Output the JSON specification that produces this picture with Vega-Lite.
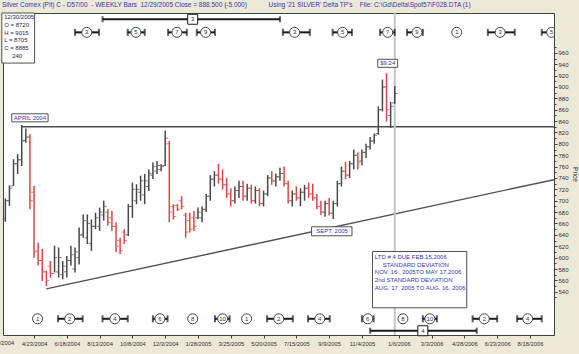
{
  "$schema": "https://vega.github.io/schema/vega-lite/v6.json",
  "width": 551,
  "height": 322,
  "autosize": "none",
  "padding": {"left": 3, "top": 13, "right": 25, "bottom": 19},
  "background": "#ece9d8",
  "title": {
    "text": "Silver Comex (Pit) C - D57/00\u00a0 - WEEKLY Bars\u00a0 12/29/2005 Close = 888.500 (-5.000)\u00a0\u00a0\u00a0\u00a0\u00a0\u00a0\u00a0\u00a0\u00a0\u00a0\u00a0 Using '21 SILVER' Delta TP's\u00a0\u00a0\u00a0 File: C:\\Gd\\Delta\\Spot57\\F028.DTA (1)",
    "anchor": "start",
    "frame": "group",
    "font": "Liberation Sans Narrow, Liberation Sans, sans-serif",
    "fontSize": 6.5,
    "fontWeight": "normal",
    "color": "#3434b8",
    "baseline": "bottom",
    "offset": 4,
    "dx": -1,
    "dy": 6
  },
  "config": {
    "view": {"fill": "white", "stroke": "#404040", "strokeWidth": 1},
    "font": "Liberation Sans",
    "text": {"font": "Liberation Sans"},
    "axis": {"labelOverlap": false, "labelSeparation": 0}
  },
  "datasets": {
    "bars": [
      {"d": "2004-03-05", "o": 668, "h": 704, "l": 663, "c": 700},
      {"d": "2004-03-12", "o": 700, "h": 727, "l": 691, "c": 722},
      {"d": "2004-03-19", "o": 726, "h": 773, "l": 726, "c": 765},
      {"d": "2004-03-26", "o": 765, "h": 782, "l": 747, "c": 772},
      {"d": "2004-04-02", "o": 772, "h": 833, "l": 761, "c": 805},
      {"d": "2004-04-09", "o": 806, "h": 827, "l": 802, "c": 812},
      {"d": "2004-04-16", "o": 812, "h": 817, "l": 685, "c": 700},
      {"d": "2004-04-23", "o": 715, "h": 726, "l": 600, "c": 610},
      {"d": "2004-04-30", "o": 612, "h": 626, "l": 586, "c": 595},
      {"d": "2004-05-07", "o": 595, "h": 615, "l": 559, "c": 575},
      {"d": "2004-05-14", "o": 575, "h": 577, "l": 550, "c": 560},
      {"d": "2004-05-21", "o": 585, "h": 594, "l": 565, "c": 572},
      {"d": "2004-05-28", "o": 572, "h": 621, "l": 574, "c": 600},
      {"d": "2004-06-04", "o": 575, "h": 618, "l": 565, "c": 600},
      {"d": "2004-06-11", "o": 570, "h": 594, "l": 562, "c": 585},
      {"d": "2004-06-18", "o": 575, "h": 603, "l": 565, "c": 595},
      {"d": "2004-06-25", "o": 595, "h": 621, "l": 586, "c": 605},
      {"d": "2004-07-02", "o": 580, "h": 618, "l": 574, "c": 610},
      {"d": "2004-07-09", "o": 600, "h": 653, "l": 588, "c": 640},
      {"d": "2004-07-16", "o": 640, "h": 676, "l": 635, "c": 665},
      {"d": "2004-07-23", "o": 635, "h": 676, "l": 624, "c": 660},
      {"d": "2004-07-30", "o": 625, "h": 667, "l": 612, "c": 655},
      {"d": "2004-08-06", "o": 655, "h": 679, "l": 650, "c": 670},
      {"d": "2004-08-13", "o": 655, "h": 688, "l": 647, "c": 680},
      {"d": "2004-08-20", "o": 675, "h": 700, "l": 665, "c": 690},
      {"d": "2004-08-27", "o": 680, "h": 685, "l": 656, "c": 662},
      {"d": "2004-09-03", "o": 670, "h": 682, "l": 647, "c": 655},
      {"d": "2004-09-10", "o": 655, "h": 662, "l": 610, "c": 620},
      {"d": "2004-09-17", "o": 630, "h": 635, "l": 606, "c": 612},
      {"d": "2004-09-24", "o": 645, "h": 650, "l": 624, "c": 630},
      {"d": "2004-10-01", "o": 640, "h": 694, "l": 638, "c": 690},
      {"d": "2004-10-08", "o": 690, "h": 732, "l": 670, "c": 720},
      {"d": "2004-10-15", "o": 700, "h": 729, "l": 694, "c": 720},
      {"d": "2004-10-22", "o": 715, "h": 744, "l": 700, "c": 735},
      {"d": "2004-10-29", "o": 710, "h": 747, "l": 694, "c": 735},
      {"d": "2004-11-05", "o": 725, "h": 755, "l": 717, "c": 748},
      {"d": "2004-11-12", "o": 745, "h": 767, "l": 738, "c": 760},
      {"d": "2004-11-19", "o": 752, "h": 770, "l": 747, "c": 762},
      {"d": "2004-11-26", "o": 755, "h": 764, "l": 752, "c": 760},
      {"d": "2004-12-03", "o": 762, "h": 823, "l": 761, "c": 810},
      {"d": "2004-12-10", "o": 800, "h": 805, "l": 662, "c": 680},
      {"d": "2004-12-17", "o": 690, "h": 694, "l": 667, "c": 672},
      {"d": "2004-12-24", "o": 692, "h": 694, "l": 682, "c": 685},
      {"d": "2004-12-31", "o": 700, "h": 708, "l": 685, "c": 690},
      {"d": "2005-01-07", "o": 675, "h": 679, "l": 635, "c": 645},
      {"d": "2005-01-14", "o": 665, "h": 679, "l": 644, "c": 650},
      {"d": "2005-01-21", "o": 670, "h": 682, "l": 647, "c": 655},
      {"d": "2005-01-28", "o": 670, "h": 688, "l": 668, "c": 680},
      {"d": "2005-02-04", "o": 670, "h": 690, "l": 662, "c": 685},
      {"d": "2005-02-11", "o": 685, "h": 712, "l": 680, "c": 708},
      {"d": "2005-02-18", "o": 708, "h": 745, "l": 700, "c": 738},
      {"d": "2005-02-25", "o": 738, "h": 752, "l": 725, "c": 745},
      {"d": "2005-03-04", "o": 745, "h": 765, "l": 730, "c": 738},
      {"d": "2005-03-11", "o": 738, "h": 755, "l": 720, "c": 728},
      {"d": "2005-03-18", "o": 728, "h": 740, "l": 705, "c": 712},
      {"d": "2005-03-25", "o": 712, "h": 722, "l": 690, "c": 700},
      {"d": "2005-04-01", "o": 700, "h": 725, "l": 695, "c": 718},
      {"d": "2005-04-08", "o": 718, "h": 735, "l": 705, "c": 725},
      {"d": "2005-04-15", "o": 725, "h": 735, "l": 700, "c": 708},
      {"d": "2005-04-22", "o": 708, "h": 730, "l": 700, "c": 722},
      {"d": "2005-04-29", "o": 722, "h": 728, "l": 695, "c": 700},
      {"d": "2005-05-06", "o": 700, "h": 725, "l": 695, "c": 718},
      {"d": "2005-05-13", "o": 718, "h": 722, "l": 690, "c": 695},
      {"d": "2005-05-20", "o": 695, "h": 718, "l": 690, "c": 712},
      {"d": "2005-05-27", "o": 712, "h": 745, "l": 708, "c": 740},
      {"d": "2005-06-03", "o": 740, "h": 752, "l": 728, "c": 735},
      {"d": "2005-06-10", "o": 735, "h": 748, "l": 725, "c": 742},
      {"d": "2005-06-17", "o": 742, "h": 758, "l": 735, "c": 748},
      {"d": "2005-06-24", "o": 748, "h": 760, "l": 725, "c": 730},
      {"d": "2005-07-01", "o": 730, "h": 735, "l": 695, "c": 700},
      {"d": "2005-07-08", "o": 700, "h": 718, "l": 690, "c": 712},
      {"d": "2005-07-15", "o": 712, "h": 725, "l": 700, "c": 705},
      {"d": "2005-07-22", "o": 705, "h": 722, "l": 690, "c": 715},
      {"d": "2005-07-29", "o": 715, "h": 728, "l": 700, "c": 722},
      {"d": "2005-08-05", "o": 722, "h": 732, "l": 705, "c": 712},
      {"d": "2005-08-12", "o": 712, "h": 730, "l": 700, "c": 705},
      {"d": "2005-08-19", "o": 705, "h": 712, "l": 685, "c": 690},
      {"d": "2005-08-26", "o": 690, "h": 700, "l": 675, "c": 680},
      {"d": "2005-09-02", "o": 680, "h": 700, "l": 672, "c": 695},
      {"d": "2005-09-09", "o": 695, "h": 705, "l": 674, "c": 678},
      {"d": "2005-09-16", "o": 678, "h": 700, "l": 668, "c": 695},
      {"d": "2005-09-23", "o": 695, "h": 735, "l": 690, "c": 730},
      {"d": "2005-09-30", "o": 730, "h": 760, "l": 725, "c": 752},
      {"d": "2005-10-07", "o": 752, "h": 768, "l": 738, "c": 745},
      {"d": "2005-10-14", "o": 745, "h": 770, "l": 740, "c": 765},
      {"d": "2005-10-21", "o": 765, "h": 790, "l": 755, "c": 780},
      {"d": "2005-10-28", "o": 780, "h": 785, "l": 755, "c": 768},
      {"d": "2005-11-04", "o": 770, "h": 790, "l": 762, "c": 785},
      {"d": "2005-11-11", "o": 785, "h": 800, "l": 775, "c": 795},
      {"d": "2005-11-18", "o": 795, "h": 812, "l": 790, "c": 805},
      {"d": "2005-11-25", "o": 805, "h": 818, "l": 800, "c": 815},
      {"d": "2005-12-02", "o": 818, "h": 866, "l": 816, "c": 860},
      {"d": "2005-12-09", "o": 860, "h": 913, "l": 857, "c": 900},
      {"d": "2005-12-16", "o": 900, "h": 924, "l": 839, "c": 860},
      {"d": "2005-12-23", "o": 850, "h": 874, "l": 828, "c": 866},
      {"d": "2005-12-30", "o": 872, "h": 901.5, "l": 870.5, "c": 888.5}
    ],
    "lines": [
      {"d": "2004-04-02", "d2": "2006-09-28", "p": 830, "p2": 830},
      {"d": "2004-05-14", "d2": "2006-09-28", "p": 545, "p2": 737}
    ],
    "circ": [
      {"d": "2004-07-22", "n": "3", "r": "t"},
      {"d": "2004-10-14", "n": "5", "r": "t"},
      {"d": "2004-12-23", "n": "7", "r": "t"},
      {"d": "2005-02-10", "n": "9", "r": "t"},
      {"d": "2005-07-12", "n": "3", "r": "t"},
      {"d": "2005-10-02", "n": "5", "r": "t"},
      {"d": "2005-12-18", "n": "7", "r": "t"},
      {"d": "2006-02-06", "n": "9", "r": "t"},
      {"d": "2006-04-15", "n": "1", "r": "t"},
      {"d": "2006-06-28", "n": "3", "r": "t"},
      {"d": "2006-09-24", "n": "5", "r": "t"},
      {"d": "2004-04-29", "n": "1", "r": "b"},
      {"d": "2004-06-23", "n": "2", "r": "b"},
      {"d": "2004-09-08", "n": "4", "r": "b"},
      {"d": "2004-11-24", "n": "6", "r": "b"},
      {"d": "2005-01-19", "n": "8", "r": "b"},
      {"d": "2005-03-11", "n": "10", "r": "b"},
      {"d": "2005-04-21", "n": "1", "r": "b"},
      {"d": "2005-06-15", "n": "2", "r": "b"},
      {"d": "2005-08-24", "n": "4", "r": "b"},
      {"d": "2005-11-14", "n": "6", "r": "b"},
      {"d": "2006-01-13", "n": "8", "r": "b"},
      {"d": "2006-02-28", "n": "10", "r": "b"},
      {"d": "2006-06-01", "n": "2", "r": "b"},
      {"d": "2006-08-14", "n": "4", "r": "b"}
    ],
    "brk": [
      {"d": "2004-07-02", "d2": "2004-08-12", "r": "t"},
      {"d": "2004-09-30", "d2": "2004-10-29", "r": "t"},
      {"d": "2004-12-08", "d2": "2005-01-09", "r": "t"},
      {"d": "2005-01-26", "d2": "2005-02-26", "r": "t"},
      {"d": "2005-06-22", "d2": "2005-08-07", "r": "t"},
      {"d": "2005-09-15", "d2": "2005-10-18", "r": "t"},
      {"d": "2005-12-05", "d2": "2005-12-30", "r": "t"},
      {"d": "2006-01-20", "d2": "2006-02-16", "r": "t"},
      {"d": "2006-06-07", "d2": "2006-07-23", "r": "t"},
      {"d": "2006-09-07", "d2": "2006-10-15", "r": "t"},
      {"d": "2004-06-03", "d2": "2004-07-15", "r": "b"},
      {"d": "2004-08-18", "d2": "2004-09-30", "r": "b"},
      {"d": "2004-11-12", "d2": "2004-12-07", "r": "b"},
      {"d": "2005-02-26", "d2": "2005-03-23", "r": "b"},
      {"d": "2005-05-26", "d2": "2005-07-09", "r": "b"},
      {"d": "2005-08-04", "d2": "2005-09-10", "r": "b"},
      {"d": "2005-11-04", "d2": "2005-11-24", "r": "b"},
      {"d": "2006-02-16", "d2": "2006-03-12", "r": "b"},
      {"d": "2006-05-12", "d2": "2006-06-23", "r": "b"},
      {"d": "2006-07-27", "d2": "2006-09-07", "r": "b"}
    ],
    "ltd": [
      {"d": "2004-08-18", "d2": "2005-06-17", "m": "2005-01-19", "n": "3", "r": "t"},
      {"d": "2005-11-18", "d2": "2006-05-19", "m": "2006-02-16", "n": "4", "r": "b"}
    ],
    "tags": [
      {"t": "$9.24", "d": "2005-12-01", "d2": "2006-01-04", "p": 948.6, "p2": 934.5, "dm": "2005-12-18", "pm": 941.5},
      {"t": "APRIL 2004", "d": "2004-03-16", "d2": "2004-05-17", "p": 852.8, "p2": 838.7, "dm": "2004-04-16", "pm": 845.8},
      {"t": "SEPT. 2005", "d": "2005-08-10", "d2": "2005-10-18", "p": 654.2, "p2": 638.4, "dm": "2005-09-14", "pm": 646.3}
    ],
    "blocks": [
      {"k": "info", "d": "2004-02-28", "d2": "2004-04-24", "p": 1030, "p2": 942, "tx": "2004-03-03", "ty": 1027.6,
       "t": ["12/30/2005", "O = 8720", "H = 9015", "L = 8705", "C = 8885", "\u2800\u2800240"]},
      {"k": "ltd", "d": "2005-11-22", "d2": "2006-05-02", "p": 610.8, "p2": 511.8, "tx": "2005-11-26", "ty": 606.7,
       "t": ["LTD # 4 DUE FEB.15,2006", "", "\u2800\u2800STANDARD DEVIATION", "NOV. 16 , 2005TO MAY 17,2006", "", "2nd STANDARD DEVIATION", "AUG. 17, 2005 TO AUG. 16, 2006"]}
    ],
    "edge": [
      {"d": "2004-02-27", "t": "2/27/2004"}
    ]
  },
  "layer": [
    {
      "data": {"name": "lines"},
      "mark": {"type": "rule", "color": "#505050", "strokeWidth": 1.4, "clip": true},
      "encoding": {
        "x": {
          "field": "d", "type": "temporal",
          "scale": {"type": "utc", "nice": false, "domain": [{"year": 2004, "month": 3, "date": 1, "utc": true}, {"year": 2006, "month": 9, "date": 28, "utc": true}]},
          "axis": {
            "values": [
              {"year": 2004, "month": 4, "date": 23, "utc": true},
              {"year": 2004, "month": 6, "date": 18, "utc": true},
              {"year": 2004, "month": 8, "date": 13, "utc": true},
              {"year": 2004, "month": 10, "date": 8, "utc": true},
              {"year": 2004, "month": 12, "date": 3, "utc": true},
              {"year": 2005, "month": 1, "date": 28, "utc": true},
              {"year": 2005, "month": 3, "date": 25, "utc": true},
              {"year": 2005, "month": 5, "date": 20, "utc": true},
              {"year": 2005, "month": 7, "date": 15, "utc": true},
              {"year": 2005, "month": 9, "date": 9, "utc": true},
              {"year": 2005, "month": 11, "date": 4, "utc": true},
              {"year": 2006, "month": 1, "date": 6, "utc": true},
              {"year": 2006, "month": 3, "date": 3, "utc": true},
              {"year": 2006, "month": 4, "date": 28, "utc": true},
              {"year": 2006, "month": 6, "date": 23, "utc": true},
              {"year": 2006, "month": 8, "date": 18, "utc": true}
            ],
            "tickCount": 200,
            "format": "%-m/%-d/%Y",
            "title": null,
            "grid": false,
            "domain": false,
            "tickSize": 3,
            "tickColor": "#404040",
            "labelFontSize": 5.8,
            "labelColor": "#333333",
            "labelPadding": 2,
            "labelOverlap": false,
            "labelBound": false,
            "labelFlush": false
          }
        },
        "x2": {"field": "d2"},
        "y": {
          "field": "p", "type": "quantitative",
          "scale": {"domain": [464, 1030], "nice": false, "zero": false},
          "axis": {
            "orient": "right",
            "values": [530, 540, 550, 560, 570, 580, 590, 600, 610, 620, 630, 640, 650, 660, 670, 680, 690, 700, 710, 720, 730, 740, 750, 760, 770, 780, 790, 800, 810, 820, 830, 840, 850, 860, 870, 880, 890, 900, 910, 920, 930, 940, 950, 960, 970],
            "tickCount": 200,
            "labelExpr": "datum.value % 20 == 0 && datum.value >= 540 && datum.value <= 960 ? datum.label : ''",
            "grid": false,
            "domain": true,
            "domainColor": "#404040",
            "tickSize": {"condition": {"test": "datum.value % 20 == 0", "value": 3}, "value": 2},
            "tickColor": "#404040",
            "labelFontSize": 6,
            "labelColor": "#333333",
            "labelPadding": 1,
            "labelOverlap": false,
            "title": "Price",
            "titleFontSize": 6.5,
            "titleFontWeight": "normal",
            "titleColor": "#333333",
            "titlePadding": 3
          }
        },
        "y2": {"field": "p2"}
      }
    },
    {
      "data": {"name": "edge"},
      "mark": {"type": "text", "fontSize": 5.8, "color": "#333333", "align": "center", "baseline": "top"},
      "encoding": {
        "x": {"field": "d", "type": "temporal"},
        "y": {"datum": 455, "type": "quantitative"},
        "text": {"field": "t"}
      }
    },
    {
      "data": {"values": [{}]},
      "mark": {"type": "rule", "color": "#c4c4c4", "strokeWidth": 2},
      "encoding": {
        "x": {"datum": {"year": 2005, "month": 12, "date": 30, "utc": true}, "type": "temporal"},
        "y": {"datum": 1030, "type": "quantitative"},
        "y2": {"datum": 464}
      }
    },
    {
      "data": {"name": "bars"},
      "mark": {"type": "rule", "strokeWidth": 1.5},
      "encoding": {
        "x": {"field": "d", "type": "temporal"},
        "y": {"field": "l", "type": "quantitative"},
        "y2": {"field": "h"},
        "color": {"condition": {"test": "datum.c >= datum.o", "value": "#484848"}, "value": "#dd4646"}
      }
    },
    {
      "data": {"name": "bars"},
      "mark": {"type": "tick", "orient": "horizontal", "size": 2.5, "thickness": 1, "xOffset": -1.6},
      "encoding": {
        "x": {"field": "d", "type": "temporal"},
        "y": {"field": "o", "type": "quantitative"},
        "color": {"condition": {"test": "datum.c >= datum.o", "value": "#484848"}, "value": "#dd4646"}
      }
    },
    {
      "data": {"name": "bars"},
      "mark": {"type": "tick", "orient": "horizontal", "size": 2.5, "thickness": 1, "xOffset": 1.6},
      "encoding": {
        "x": {"field": "d", "type": "temporal"},
        "y": {"field": "c", "type": "quantitative"},
        "color": {"condition": {"test": "datum.c >= datum.o", "value": "#484848"}, "value": "#dd4646"}
      }
    },
    {
      "data": {"name": "brk"},
      "transform": [{"filter": "datum.r == 't'"}],
      "mark": {"type": "rule", "color": "#1a1a1a", "strokeWidth": 2, "clip": true},
      "encoding": {
        "x": {"field": "d", "type": "temporal"},
        "x2": {"field": "d2"},
        "y": {"datum": 996, "type": "quantitative"}
      }
    },
    {
      "data": {"name": "brk"},
      "transform": [{"filter": "datum.r == 'b'"}],
      "mark": {"type": "rule", "color": "#1a1a1a", "strokeWidth": 2, "clip": true},
      "encoding": {
        "x": {"field": "d", "type": "temporal"},
        "x2": {"field": "d2"},
        "y": {"datum": 492.5, "type": "quantitative"}
      }
    },
    {
      "data": {"name": "brk"},
      "transform": [{"filter": "datum.r == 't'"}, {"fold": ["d", "d2"], "as": ["end", "e"]}],
      "mark": {"type": "tick", "orient": "vertical", "size": 7, "thickness": 2, "color": "#1a1a1a", "clip": true},
      "encoding": {
        "x": {"field": "e", "type": "temporal"},
        "y": {"datum": 996, "type": "quantitative"}
      }
    },
    {
      "data": {"name": "brk"},
      "transform": [{"filter": "datum.r == 'b'"}, {"fold": ["d", "d2"], "as": ["end", "e"]}],
      "mark": {"type": "tick", "orient": "vertical", "size": 7, "thickness": 2, "color": "#1a1a1a", "clip": true},
      "encoding": {
        "x": {"field": "e", "type": "temporal"},
        "y": {"datum": 492.5, "type": "quantitative"}
      }
    },
    {
      "data": {"name": "ltd"},
      "transform": [{"filter": "datum.r == 't'"}],
      "mark": {"type": "rule", "color": "#1a1a1a", "strokeWidth": 2},
      "encoding": {
        "x": {"field": "d", "type": "temporal"},
        "x2": {"field": "d2"},
        "y": {"datum": 1019, "type": "quantitative"}
      }
    },
    {
      "data": {"name": "ltd"},
      "transform": [{"filter": "datum.r == 'b'"}],
      "mark": {"type": "rule", "color": "#1a1a1a", "strokeWidth": 2},
      "encoding": {
        "x": {"field": "d", "type": "temporal"},
        "x2": {"field": "d2"},
        "y": {"datum": 471.5, "type": "quantitative"}
      }
    },
    {
      "data": {"name": "ltd"},
      "transform": [{"filter": "datum.r == 't'"}, {"fold": ["d", "d2"], "as": ["end", "e"]}],
      "mark": {"type": "tick", "orient": "vertical", "size": 6, "thickness": 2, "color": "#1a1a1a"},
      "encoding": {
        "x": {"field": "e", "type": "temporal"},
        "y": {"datum": 1019, "type": "quantitative"}
      }
    },
    {
      "data": {"name": "ltd"},
      "transform": [{"filter": "datum.r == 'b'"}, {"fold": ["d", "d2"], "as": ["end", "e"]}],
      "mark": {"type": "tick", "orient": "vertical", "size": 6, "thickness": 2, "color": "#1a1a1a"},
      "encoding": {
        "x": {"field": "e", "type": "temporal"},
        "y": {"datum": 471.5, "type": "quantitative"}
      }
    },
    {
      "data": {"name": "ltd"},
      "transform": [{"filter": "datum.r == 't'"}],
      "mark": {"type": "point", "shape": "square", "size": 100, "filled": true, "fill": "white", "stroke": "#1a1a1a", "strokeWidth": 1, "opacity": 1},
      "encoding": {
        "x": {"field": "m", "type": "temporal"},
        "y": {"datum": 1019, "type": "quantitative"}
      }
    },
    {
      "data": {"name": "ltd"},
      "transform": [{"filter": "datum.r == 'b'"}],
      "mark": {"type": "point", "shape": "square", "size": 100, "filled": true, "fill": "white", "stroke": "#1a1a1a", "strokeWidth": 1, "opacity": 1},
      "encoding": {
        "x": {"field": "m", "type": "temporal"},
        "y": {"datum": 471.5, "type": "quantitative"}
      }
    },
    {
      "data": {"name": "circ"},
      "transform": [{"filter": "datum.r == 't'"}],
      "mark": {"type": "point", "shape": "circle", "size": 100, "filled": true, "fill": "white", "stroke": "#444444", "strokeWidth": 1, "opacity": 1, "clip": true},
      "encoding": {
        "x": {"field": "d", "type": "temporal"},
        "y": {"datum": 996, "type": "quantitative"}
      }
    },
    {
      "data": {"name": "circ"},
      "transform": [{"filter": "datum.r == 'b'"}],
      "mark": {"type": "point", "shape": "circle", "size": 100, "filled": true, "fill": "white", "stroke": "#444444", "strokeWidth": 1, "opacity": 1, "clip": true},
      "encoding": {
        "x": {"field": "d", "type": "temporal"},
        "y": {"datum": 492.5, "type": "quantitative"}
      }
    },
    {
      "data": {"name": "circ"},
      "transform": [{"filter": "datum.r == 't'"}],
      "mark": {"type": "text", "fontSize": 6, "color": "#333333", "baseline": "middle", "align": "center", "clip": true},
      "encoding": {
        "x": {"field": "d", "type": "temporal"},
        "y": {"datum": 996, "type": "quantitative"},
        "text": {"field": "n"}
      }
    },
    {
      "data": {"name": "circ"},
      "transform": [{"filter": "datum.r == 'b'"}],
      "mark": {"type": "text", "fontSize": 6, "color": "#333333", "baseline": "middle", "align": "center"},
      "encoding": {
        "x": {"field": "d", "type": "temporal"},
        "y": {"datum": 492.5, "type": "quantitative"},
        "text": {"field": "n"}
      }
    },
    {
      "data": {"name": "ltd"},
      "transform": [{"filter": "datum.r == 't'"}],
      "mark": {"type": "text", "fontSize": 6, "color": "#333333", "baseline": "middle", "align": "center"},
      "encoding": {
        "x": {"field": "m", "type": "temporal"},
        "y": {"datum": 1019, "type": "quantitative"},
        "text": {"field": "n"}
      }
    },
    {
      "data": {"name": "ltd"},
      "transform": [{"filter": "datum.r == 'b'"}],
      "mark": {"type": "text", "fontSize": 6, "color": "#333333", "baseline": "middle", "align": "center"},
      "encoding": {
        "x": {"field": "m", "type": "temporal"},
        "y": {"datum": 471.5, "type": "quantitative"},
        "text": {"field": "n"}
      }
    },
    {
      "data": {"name": "tags"},
      "mark": {"type": "rect", "fill": "white", "stroke": "#505050", "strokeWidth": 1},
      "encoding": {
        "x": {"field": "d", "type": "temporal"},
        "x2": {"field": "d2"},
        "y": {"field": "p", "type": "quantitative"},
        "y2": {"field": "p2"}
      }
    },
    {
      "data": {"name": "tags"},
      "mark": {"type": "text", "fontSize": 6, "color": "#3535b0", "baseline": "middle", "align": "center"},
      "encoding": {
        "x": {"field": "dm", "type": "temporal"},
        "y": {"field": "pm", "type": "quantitative"},
        "text": {"field": "t"}
      }
    },
    {
      "data": {"name": "blocks"},
      "mark": {"type": "rect", "fill": "white", "stroke": "#505050", "strokeWidth": 1},
      "encoding": {
        "x": {"field": "d", "type": "temporal"},
        "x2": {"field": "d2"},
        "y": {"field": "p", "type": "quantitative"},
        "y2": {"field": "p2"}
      }
    },
    {
      "data": {"name": "blocks"},
      "mark": {"type": "text", "fontSize": 6, "baseline": "top", "align": "left", "lineHeight": 7.7},
      "encoding": {
        "x": {"field": "tx", "type": "temporal"},
        "y": {"field": "ty", "type": "quantitative"},
        "text": {"field": "t"},
        "color": {"condition": {"test": "datum.k == 'info'", "value": "#1e1e50"}, "value": "#3535b0"}
      }
    }
  ]
}
